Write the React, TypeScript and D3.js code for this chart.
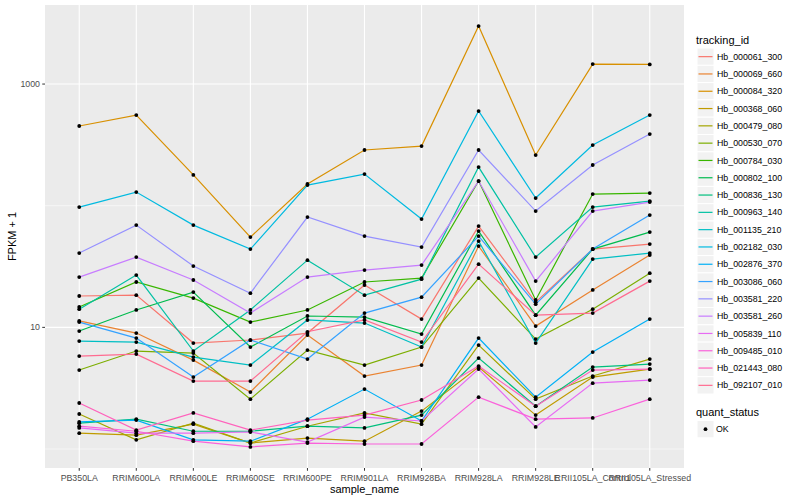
import * as d3 from "d3";

const samples = [
  "PB350LA", "RRIM600LA", "RRIM600LE", "RRIM600SE", "RRIM600PE", "RRIM901LA",
  "RRIM928BA", "RRIM928LA", "RRIM928LE", "RRII105LA_Control", "RRII105LA_Stressed",
];

const trackingIds = [
  "Hb_000061_300", "Hb_000069_660", "Hb_000084_320", "Hb_000368_060", "Hb_000479_080",
  "Hb_000530_070", "Hb_000784_030", "Hb_000802_100", "Hb_000836_130", "Hb_000963_140",
  "Hb_001135_210", "Hb_002182_030", "Hb_002876_370", "Hb_003086_060", "Hb_003581_220",
  "Hb_003581_260", "Hb_005839_110", "Hb_009485_010", "Hb_021443_080", "Hb_092107_010",
];

// FPKM + 1, one array per tracking_id, in sample order
const hb000061_300 = [18.1, 18.4, 7.43, 7.87, 8.98, 22.3, 11.7, 68.0, 16.1, 44.0, 48.4];
const hb000069_660 = [11.3, 8.98, 5.38, 2.94, 8.64, 3.98, 4.9, 46.6, 10.25, 20.3, 39.3];
const hb000084_320 = [452, 556, 179, 55.2, 151, 287, 309, 2998, 261, 1460, 1450];
const hb000368_060 = [1.35, 1.3, 1.6, 1.12, 1.23, 1.16, 2.05, 4.72, 1.9, 3.9, 4.54];
const hb000479_080 = [1.94, 1.19, 1.63, 1.12, 1.54, 1.98, 1.6, 7.15, 2.57, 3.98, 5.49];
const hb000530_070 = [4.46, 6.39, 6.15, 2.57, 6.51, 4.9, 6.89, 25.4, 8.01, 14.1, 27.9];
const hb000784_030 = [14.7, 23.6, 17.4, 11.05, 13.9, 23.6, 25.4, 159.5, 16.8, 124.7, 127.1];
const hb000802_100 = [9.33, 13.9, 19.5, 6.89, 12.4, 12.15, 8.81, 61.9, 12.6, 44.0, 60.7];
const hb000836_130 = [1.63, 1.76, 1.4, 1.4, 1.54, 1.49, 1.9, 5.59, 2.25, 4.72, 4.99];
const hb000963_140 = [14.1, 26.9, 6.39, 13.9, 35.7, 18.4, 24.9, 207.8, 37.8, 97.5, 109.2];
const hb001135_210 = [7.72, 7.57, 5.7, 4.9, 11.5, 10.85, 6.89, 51.2, 7.43, 36.4, 40.8];
const hb002182_030 = [97.5, 129.5, 69.3, 44.0, 147.8, 182, 77.7, 600, 115.6, 315, 556];
const hb002876_370 = [1.67, 1.73, 1.19, 1.16, 1.76, 3.11, 1.7, 8.17, 2.67, 6.27, 11.7];
const hb003086_060 = [11.05, 8.17, 3.9, 7.87, 5.49, 13.1, 17.7, 56.3, 15.5, 44.0, 83.8];
const hb003581_220 = [40.8, 69.3, 31.9, 19.1, 80.7, 56.3, 45.7, 287, 90.4, 216, 388];
const hb003581_260 = [25.9, 37.8, 24.5, 13.1, 25.9, 29.6, 32.5, 159.5, 24.0, 90.4, 107.2];
const hb005839_110 = [1.49, 1.35, 1.35, 1.38, 1.14, 1.83, 1.7, 4.54, 1.52, 3.48, 3.69];
const hb009485_010 = [1.54, 1.4, 1.16, 1.04, 1.12, 1.1, 1.1, 2.67, 1.76, 1.8, 2.57];
const hb021443_080 = [2.39, 1.43, 1.98, 1.43, 1.73, 1.9, 2.53, 4.81, 2.25, 4.46, 4.54];
const hb092107_010 = [5.81, 6.03, 3.62, 3.62, 9.2, 11.5, 7.57, 33.1, 12.6, 13.1, 24.0];

const seriesValues = [
  hb000061_300, hb000069_660, hb000084_320, hb000368_060, hb000479_080,
  hb000530_070, hb000784_030, hb000802_100, hb000836_130, hb000963_140,
  hb001135_210, hb002182_030, hb002876_370, hb003086_060, hb003581_220,
  hb003581_260, hb005839_110, hb009485_010, hb021443_080, hb092107_010,
];

const yMajor = [10, 1000];
const yMinor = [1, 100];

const palette = [
  "#F8766D", "#EA8331", "#D89000", "#C09B00", "#A3A500", "#7CAE00", "#39B600",
  "#00BB4E", "#00BF7D", "#00C1A3", "#00BFC4", "#00BAE0", "#00B0F6", "#35A2FF",
  "#9590FF", "#C77CFF", "#E76BF3", "#FA62DB", "#FF62BC", "#FF6C91",
];

const W = 800;
const H = 500;
const panel = { left: 45, right: 684, top: 5, bottom: 468 };
const font = "'Liberation Sans', Arial, Helvetica, sans-serif";

export default function App() {
  const x = d3
    .scalePoint<string>()
    .domain(samples)
    .range([panel.left, panel.right])
    .padding(0.6);

  const all = seriesValues.flat();
  const [lo, hi] = d3.extent(all) as [number, number];
  const l0 = Math.log10(lo);
  const l1 = Math.log10(hi);
  const pad = (l1 - l0) * 0.05;
  const y = d3
    .scaleLog()
    .domain([Math.pow(10, l0 - pad), Math.pow(10, l1 + pad)])
    .range([panel.bottom, panel.top]);

  const line = d3
    .line<number>()
    .x((_, i) => x(samples[i])!)
    .y((d) => y(d));

  const legendX = 697;
  const keyTop = 48;
  const keyH = 17.3;

  return (
    <div style={{ position: "fixed", left: 0, top: 0 }}>
      <svg width={W} height={H} style={{ display: "block", background: "#fff" }}>
        <rect
          x={panel.left}
          y={panel.top}
          width={panel.right - panel.left}
          height={panel.bottom - panel.top}
          fill="#EBEBEB"
        />
        {/* grid */}
        {yMinor.map((v) => (
          <line key={"mi" + v} x1={panel.left} x2={panel.right} y1={y(v)} y2={y(v)} stroke="#fff" strokeWidth={0.55} />
        ))}
        {yMajor.map((v) => (
          <line key={"ma" + v} x1={panel.left} x2={panel.right} y1={y(v)} y2={y(v)} stroke="#fff" strokeWidth={1.1} />
        ))}
        {samples.map((s) => (
          <line key={"gx" + s} x1={x(s)} x2={x(s)} y1={panel.top} y2={panel.bottom} stroke="#fff" strokeWidth={1.1} />
        ))}

        {/* lines */}
        {seriesValues.map((vals, i) => (
          <path key={"l" + i} d={line(vals)!} fill="none" stroke={palette[i]} strokeWidth={1.2} />
        ))}
        {/* points */}
        {seriesValues.map((vals, i) =>
          vals.map((v, j) => (
            <circle key={"p" + i + "_" + j} cx={x(samples[j])} cy={y(v)} r={1.9} fill="#000" />
          ))
        )}

        {/* y axis */}
        {yMajor.map((v) => (
          <g key={"yt" + v}>
            <line x1={panel.left - 2.75} x2={panel.left} y1={y(v)} y2={y(v)} stroke="#333" strokeWidth={1} />
            <text x={panel.left - 5} y={y(v)} dy="0.35em" textAnchor="end" fontSize={8.8} fill="#4D4D4D" fontFamily={font}>
              {v}
            </text>
          </g>
        ))}
        {/* x axis */}
        {samples.map((s) => (
          <g key={"xt" + s}>
            <line x1={x(s)} x2={x(s)} y1={panel.bottom} y2={panel.bottom + 2.75} stroke="#333" strokeWidth={1} />
            <text x={x(s)} y={panel.bottom + 13} textAnchor="middle" fontSize={8.8} fill="#4D4D4D" fontFamily={font}>
              {s}
            </text>
          </g>
        ))}
        <text x={(panel.left + panel.right) / 2} y={493} textAnchor="middle" fontSize={11} fill="#000" fontFamily={font}>
          sample_name
        </text>
        <text
          transform={`translate(16,${(panel.top + panel.bottom) / 2}) rotate(-90)`}
          textAnchor="middle"
          fontSize={11}
          fill="#000"
          fontFamily={font}
        >
          FPKM + 1
        </text>

        {/* legend: tracking_id */}
        <text x={legendX - 1} y={44} fontSize={11} fill="#000" fontFamily={font}>
          tracking_id
        </text>
        {trackingIds.map((id, i) => {
          const ky = keyTop + i * keyH;
          return (
            <g key={"lg" + id}>
              <rect x={legendX} y={ky} width={17} height={keyH} fill="#F2F2F2" stroke="#fff" strokeWidth={1} />
              <line x1={legendX + 1.5} x2={legendX + 15.5} y1={ky + keyH / 2} y2={ky + keyH / 2} stroke={palette[i]} strokeWidth={1.2} />
              <text x={legendX + 20} y={ky + keyH / 2} dy="0.35em" fontSize={8.8} fill="#000" fontFamily={font}>
                {id}
              </text>
            </g>
          );
        })}

        {/* legend: quant_status */}
        <text x={legendX - 1} y={416} fontSize={11} fill="#000" fontFamily={font}>
          quant_status
        </text>
        <rect x={legendX} y={420.5} width={17} height={keyH} fill="#F2F2F2" stroke="#fff" strokeWidth={1} />
        <circle cx={legendX + 8.5} cy={429.2} r={1.9} fill="#000" />
        <text x={legendX + 19} y={429.2} dy="0.35em" fontSize={8.8} fill="#000" fontFamily={font}>
          OK
        </text>
      </svg>
    </div>
  );
}
